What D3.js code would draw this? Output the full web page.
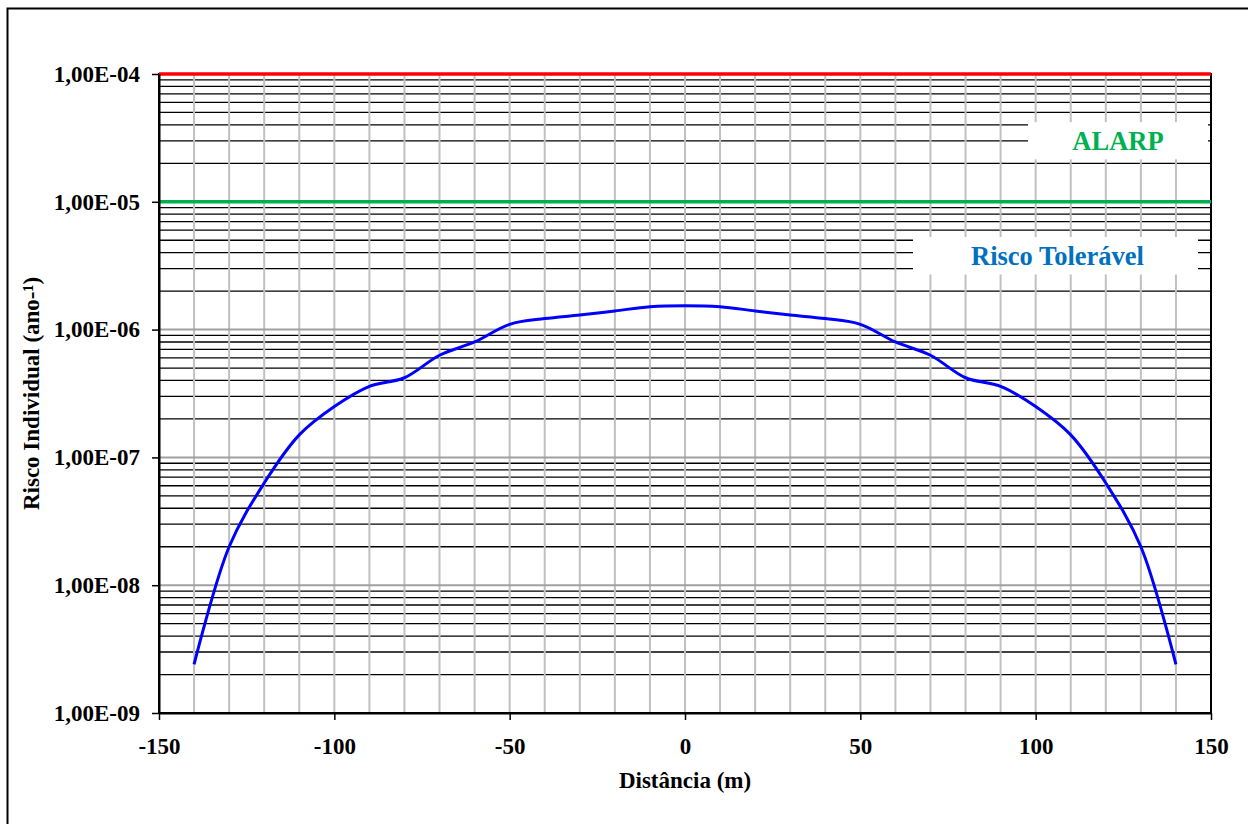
<!DOCTYPE html>
<html lang="pt">

<head>
    <meta charset="utf-8">
    <script src="https://cdn.jsdelivr.net/npm/d3@7/dist/d3.min.js"></script>
    <title>Risco Individual</title>
    <style>
        body { margin: 0; background: #fff; }
        text { font-family: "Times New Roman", "Liberation Serif", serif; font-weight: bold; }
    </style>
</head>

<body>
    <svg width="1248" height="824" id="plot"></svg>
    <script>
    // Data
    const distances = [-140, -130, -120, -110, -100, -90, -80, -70, -60, -50, -40, -30, -20, -10, 0,
        10, 20, 30, 40, 50, 60, 70, 80, 90, 100, 110, 120, 130, 140]
    const risk = [2.4e-9, 2.0e-8, 6.3e-8, 1.5e-7, 2.5e-7, 3.6e-7, 4.2e-7, 6.3e-7, 8.0e-7, 1.1e-6, 1.22e-6, 1.3e-6, 1.4e-6, 1.51e-6, 1.54e-6,
        1.51e-6, 1.4e-6, 1.3e-6, 1.22e-6, 1.1e-6, 8.0e-7, 6.3e-7, 4.2e-7, 3.6e-7, 2.5e-7, 1.5e-7, 6.3e-8, 2.0e-8, 2.4e-9]

    const limitValues = [1e-4, 1e-5]   // intolerable / ALARP limits
    const limitColors = ["#ff0000", "#00b050"]

    const xTicks = [-150, -100, -50, 0, 50, 100, 150]
    const xTickLabels = ["-150", "-100", "-50", "0", "50", "100", "150"]
    const yTicks = [1e-9, 1e-8, 1e-7, 1e-6, 1e-5, 1e-4]
    const yTickLabels = ["1,00E-09", "1,00E-08", "1,00E-07", "1,00E-06", "1,00E-05", "1,00E-04"]

    const regionLabels = ["ALARP", "Risco Tolerável"]

    let svg = d3.select("#plot")

    // outer chart frame (runs off the right/bottom like the original)
    svg.append("rect")
        .attr("x", 7.5).attr("y", 8.5)
        .attr("width", 1400).attr("height", 1000)
        .attr("fill", "none").attr("stroke", "#000").attr("stroke-width", 2)

    const pLeft = 159, pRight = 1211, pTop = 74, pBottom = 713

    let scaleX = d3.scaleLinear().domain([-150, 150]).range([pLeft, pRight])
    let scaleY = d3.scaleLog().domain([1e-9, 1e-4]).range([pBottom, pTop])

    let diagram = svg.append("g")

    // minor horizontal grid (2..9 in each decade)
    const minor = []
    yTicks.slice(0, -1).forEach(d => {
        for (let k = 2; k <= 9; k++) minor.push(d * k)
    })
    diagram.selectAll(".minor")
        .data(minor)
        .enter()
        .append("line")
        .attr("x1", pLeft).attr("x2", pRight)
        .attr("y1", d => scaleY(d)).attr("y2", d => scaleY(d))
        .attr("stroke", "#000").attr("stroke-width", 1.3)

    // vertical grid every 10 m
    diagram.selectAll(".vgrid")
        .data(d3.range(-140, 150, 10))
        .enter()
        .append("line")
        .attr("x1", d => scaleX(d)).attr("x2", d => scaleX(d))
        .attr("y1", pTop).attr("y2", pBottom)
        .attr("stroke", "#c0c0c0").attr("stroke-width", 2)

    // major horizontal grid
    diagram.selectAll(".major")
        .data(yTicks.slice(1, -1))
        .enter()
        .append("line")
        .attr("x1", pLeft).attr("x2", pRight)
        .attr("y1", d => scaleY(d)).attr("y2", d => scaleY(d))
        .attr("stroke", "#a0a0a0").attr("stroke-width", 2)

    // region label boxes
    const boxes = [
        { x0: 1028, x1: 1208, v0: 4.2e-5, v1: 2.15e-5, color: "#00b050" },
        { x0: 913, x1: 1198, v0: 5.3e-6, v1: 2.7e-6, color: "#0070c0" }
    ]
    boxes.forEach((b, i) => {
        diagram.append("rect")
            .attr("x", b.x0).attr("y", scaleY(b.v0))
            .attr("width", b.x1 - b.x0).attr("height", scaleY(b.v1) - scaleY(b.v0))
            .attr("fill", "#fff")
        diagram.append("text")
            .text(regionLabels[i])
            .attr("x", (b.x0 + b.x1) / 2 + (i == 1 ? 2 : 0))
            .attr("y", (scaleY(b.v0) + scaleY(b.v1)) / 2)
            .attr("dy", "0.36em")
            .attr("text-anchor", "middle")
            .attr("fill", b.color)
            .style("font-size", "26.5px")
    })

    // plot area border
    diagram.append("rect")
        .attr("x", pLeft).attr("y", pTop)
        .attr("width", pRight - pLeft).attr("height", pBottom - pTop)
        .attr("fill", "none").attr("stroke", "#000").attr("stroke-width", 2)

    // limit lines
    diagram.selectAll(".limit")
        .data(limitValues)
        .enter()
        .append("line")
        .attr("x1", pLeft).attr("x2", pRight)
        .attr("y1", d => scaleY(d)).attr("y2", d => scaleY(d))
        .attr("stroke", (d, i) => limitColors[i]).attr("stroke-width", 3.5)

    // risk curve
    const points = distances.map((d, i) => [d, risk[i]])
    diagram.append("path")
        .datum(points)
        .attr("fill", "none")
        .attr("stroke", "#0000ff")
        .attr("stroke-width", 3)
        .attr("d", d3.line()
            .curve(d3.curveCatmullRom)
            .x(d => scaleX(d[0]))
            .y(d => scaleY(d[1])))

    // axes
    let axisX = d3.axisBottom(scaleX).tickValues(xTicks).tickSize(7).tickSizeOuter(0).tickPadding(18)
        .tickFormat((d, i) => xTickLabels[i])
    let gx = svg.append("g").attr("transform", "translate(0," + pBottom + ")").call(axisX)

    let axisY = d3.axisLeft(scaleY).tickValues(yTicks).tickSize(7).tickSizeOuter(0).tickPadding(12)
        .tickFormat((d, i) => yTickLabels[i])
    let gy = svg.append("g").attr("transform", "translate(" + pLeft + ",0)").call(axisY)

    svg.selectAll(".domain").attr("stroke", "#000").attr("stroke-width", 2)
    svg.selectAll(".tick line").attr("stroke", "#000").attr("stroke-width", 1.5)
    svg.selectAll(".tick text")
        .attr("fill", "#000")
        .style("font-family", "'Times New Roman', 'Liberation Serif', serif")
        .style("font-weight", "bold")
        .style("font-size", "23px")

    // axis titles
    svg.append("text")
        .text("Distância (m)")
        .attr("x", (pLeft + pRight) / 2)
        .attr("y", 788)
        .attr("text-anchor", "middle")
        .style("font-size", "23px")

    svg.append("text")
        .attr("transform", "translate(39," + (pTop + pBottom) / 2 + ") rotate(-90)")
        .attr("text-anchor", "middle")
        .style("font-size", "23px")
        .text("Risco Individual (ano-¹)")
    </script>
</body>

</html>
